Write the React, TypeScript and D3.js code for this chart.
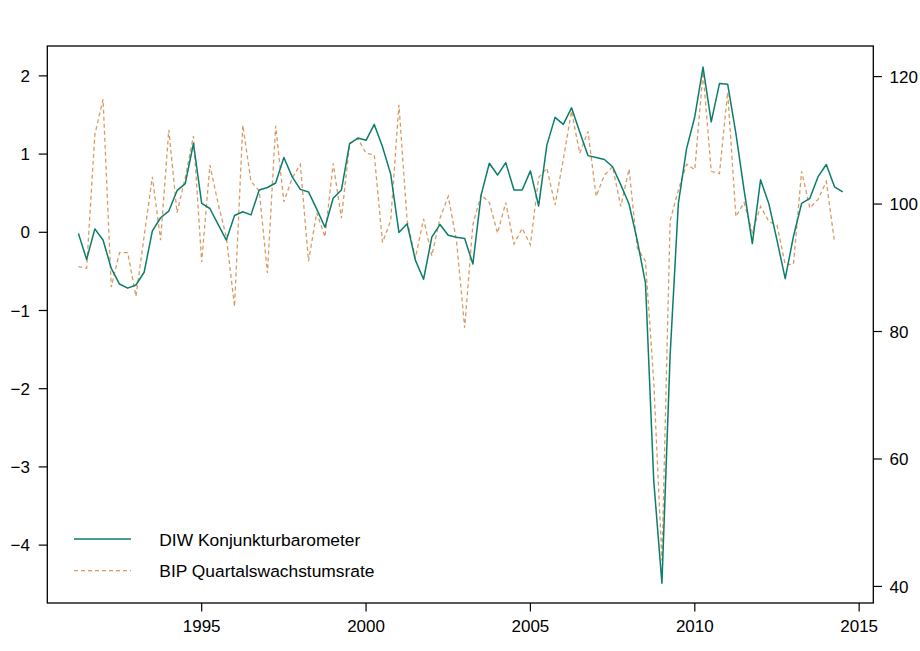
import React from "react";
import * as d3 from "d3";

// Quarterly series, starting 1991 Q2 (plotted at 1991.25)
const START = 1991.25;
const diwBarometer = [
  95.4, 91.3, 96.1, 94.35, 89.9, 87.45, 86.8, 87.3, 89.3, 95.8,
  97.85, 98.9, 102.1, 103.2, 109.5, 100.1, 99.3, 96.8, 94.35, 98.2,
  98.8, 98.3, 102.2, 102.6, 103.3, 107.3, 104.3, 102.3, 101.9, 99.2,
  96.35, 100.9, 102.2, 109.5, 110.35, 110.0, 112.5, 109.0, 104.7, 95.55,
  96.9, 91.2, 88.2, 94.8, 96.8, 95.1, 94.8, 94.6, 90.6, 101.4,
  106.4, 104.55, 106.5, 102.2, 102.2, 105.2, 99.7, 109.25, 113.6, 112.5,
  115.1, 111.3, 107.6, 107.3, 107.0, 105.85, 103.0, 100.0, 94.3, 87.6,
  56.7, 40.5, 76.3, 100.1, 108.7, 113.7, 121.5, 112.9, 118.9, 118.8,
  111.1, 102.2, 93.8, 103.8, 100.1, 94.35, 88.3, 94.9, 100.1, 100.9,
  104.3, 106.2, 102.7, 101.9,
];
const bipGrowth = [
  -0.44, -0.46, 1.25, 1.7, -0.7, -0.26, -0.26, -0.82, -0.05, 0.71,
  -0.1, 1.31, 0.25, 0.7, 1.23, -0.38, 0.86, 0.37, -0.06, -0.95,
  1.37, 0.65, 0.53, -0.52, 1.36, 0.39, 0.69, 0.87, -0.37, 0.25,
  -0.06, 0.88, 0.18, 1.13, 1.2, 1.01, 0.99, -0.13, 0.15, 1.63,
  0.15, -0.33, 0.17, -0.3, 0.18, 0.46, -0.1, -1.22, 0.1, 0.48,
  0.38, -0.01, 0.38, -0.15, 0.05, -0.16, 0.7, 0.82, 0.35, 0.93,
  1.55, 1.01, 1.29, 0.46, 0.73, 0.84, 0.33, 0.81, -0.2, -0.37,
  -1.9, -4.2, 0.15, 0.54, 0.87, 0.8, 2.05, 0.78, 0.75, 1.79,
  0.2, 0.38, 0.0, 0.33, 0.14, 0.09, -0.41, -0.41, 0.78, 0.31,
  0.42, 0.65, -0.12,
];
const xTicks = [1995, 2000, 2005, 2010, 2015];
const leftTicks = [-4, -3, -2, -1, 0, 1, 2];
const rightTicks = [40, 60, 80, 100, 120];
const legendLabels = ["DIW Konjunkturbarometer", "BIP Quartalswachstumsrate"];

const GREEN = "#0b7d6c";
const ORANGE = "#d99b63";
const FONT = "'Liberation Sans', Arial, Helvetica, sans-serif";

export default function App() {
  const W = 920, H = 651;
  const L = 47.3, R = 873.3, T = 46, B = 603;
  const x = d3.scaleLinear().domain([1990.304, 2015.43]).range([L, R]);
  const yL = d3.scaleLinear().domain([-4.74, 2.382]).range([B, T]);
  const yR = d3.scaleLinear().domain([37.4, 124.8]).range([B, T]);

  const diwPts = diwBarometer.map((v, i) => [START + i * 0.25, v] as [number, number]);
  const bipPts = bipGrowth.map((v, i) => [START + i * 0.25, v] as [number, number]);
  const lineR = d3.line<[number, number]>().x((d) => x(d[0])).y((d) => yR(d[1]));
  const lineL = d3.line<[number, number]>().x((d) => x(d[0])).y((d) => yL(d[1]));

  const fmt = (v: number) => (v < 0 ? "\u2212" + Math.abs(v) : String(v));

  return (
    <svg width={W} height={H} style={{ position: "absolute", left: 0, top: 0, background: "#fff" }}
      fontFamily={FONT} fontSize={17}>
      <rect x={0} y={0} width={W} height={H} fill="#fff" />
      <path d={lineL(bipPts) || ""} fill="none" stroke={ORANGE} strokeWidth={1.3} strokeDasharray="4,3" />
      <path d={lineR(diwPts) || ""} fill="none" stroke={GREEN} strokeWidth={1.5} strokeLinejoin="round" />
      <rect x={L} y={T} width={R - L} height={B - T} fill="none" stroke="#000" strokeWidth={1.3} />
      {/* bottom axis */}
      {xTicks.map((t) => (
        <g key={"x" + t}>
          <line x1={x(t)} x2={x(t)} y1={B} y2={B + 8.5} stroke="#000" strokeWidth={1.2} />
          <text x={x(t)} y={632.3} textAnchor="middle" fill="#000">{t}</text>
        </g>
      ))}
      {/* left axis */}
      {leftTicks.map((t) => (
        <g key={"l" + t}>
          <line x1={L - 8.6} x2={L} y1={yL(t)} y2={yL(t)} stroke="#000" strokeWidth={1.2} />
          <text x={30} y={yL(t) + 6.1} textAnchor="end" fill="#000">{fmt(t)}</text>
        </g>
      ))}
      {/* right axis */}
      {rightTicks.map((t) => (
        <g key={"r" + t}>
          <line x1={R} x2={R + 8.6} y1={yR(t)} y2={yR(t)} stroke="#000" strokeWidth={1.2} />
          <text x={889.5} y={yR(t) + 6.1} textAnchor="start" fill="#000">{t}</text>
        </g>
      ))}
      {/* legend */}
      <line x1={74} x2={131} y1={539} y2={539} stroke={GREEN} strokeWidth={1.5} />
      <text x={159.3} y={545.7} fill="#000" fontSize={17.4}>{legendLabels[0]}</text>
      <line x1={74} x2={131} y1={570.7} y2={570.7} stroke={ORANGE} strokeWidth={1.3} strokeDasharray="4,3" />
      <text x={159.3} y={577.3} fill="#000" fontSize={17.4}>{legendLabels[1]}</text>
    </svg>
  );
}
